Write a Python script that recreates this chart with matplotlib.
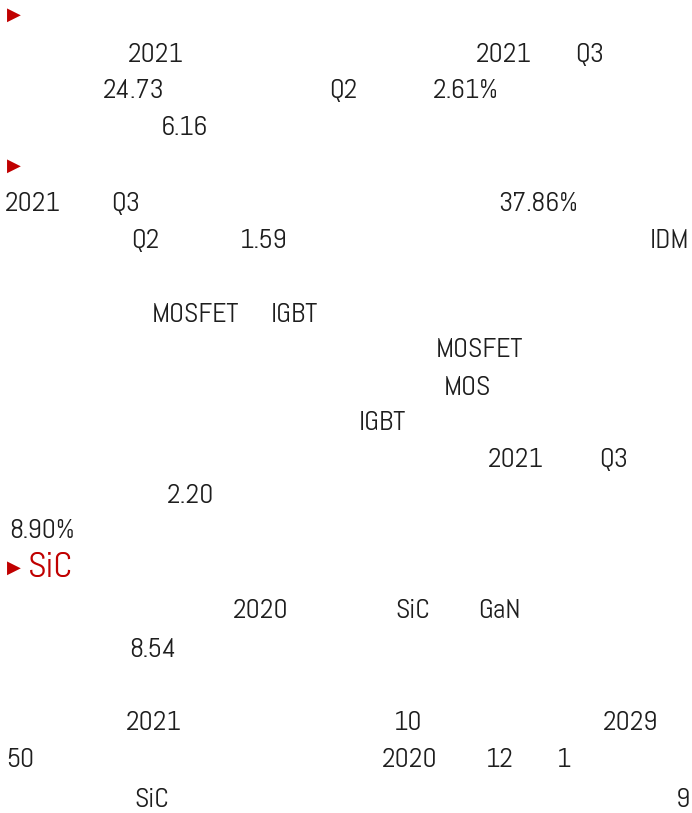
import matplotlib
matplotlib.use("Agg")
import matplotlib.pyplot as plt
from matplotlib import font_manager

# text fragments that survive in the page (CJK glyphs render blank)
sec1_l1 = ["2021", "2021", "Q3"]
sec1_l2 = ["24.73", "Q2", "2.61%"]
sec1_l3 = ["6.16"]
sec2_l1 = ["2021", "Q3", "37.86%"]
sec2_l2 = ["Q2", "1.59", "IDM"]
sec2_l3 = ["MOSFET", "IGBT"]
sec2_l4 = ["MOSFET"]
sec2_l5 = ["MOS"]
sec2_l6 = ["IGBT"]
sec2_l7 = ["2021", "Q3"]
sec2_l8 = ["2.20"]
sec2_l9 = ["8.90%"]
sec3_title = "SiC"
sec3_l1 = ["2020", "SiC", "GaN"]
sec3_l2 = ["8.54"]
sec3_l3 = ["2021", "10", "2029"]
sec3_l4 = ["50", "2020", "12", "1"]
sec3_l5 = ["SiC", "9"]

bullet = "\u25B6"

# layout: baseline (px from top) and token centres (px from left)
layout = [
    (62, [156, 504, 590], sec1_l1),
    (98, [134, 343, 466], sec1_l2),
    (135, [184], sec1_l3),
    (211, [33, 126, 538], sec2_l1),
    (248, [145, 264, 670], sec2_l2),
    (322, [195, 294], sec2_l3),
    (357, [479], sec2_l4),
    (395, [467], sec2_l5),
    (430, [382], sec2_l6),
    (467, [516, 614], sec2_l7),
    (503, [191], sec2_l8),
    (538, [42], sec2_l9),
    (618, [261, 413, 499], sec3_l1),
    (657, [153], sec3_l2),
    (730, [154, 408, 631], sec3_l3),
    (767, [20, 410, 500, 564], sec3_l4),
    (807, [152, 683], sec3_l5),
]

names = {f.name for f in font_manager.fontManager.ttflist}
body_font = "Abel" if "Abel" in names else "Liberation Sans"

fig = plt.figure(figsize=(6.92, 8.13), dpi=100)
ax = fig.add_axes([0, 0, 1, 1])
ax.set_xlim(0, 692)
ax.set_ylim(813, 0)
ax.axis("off")

text_color = "#1e1e1e"
red = "#c00000"

for base, xs, tokens in layout:
    for x, s in zip(xs, tokens):
        ax.text(x, base, s, ha="center", va="baseline", fontsize=20,
                family=body_font, color=text_color)

# red bullets of the three sections
for yc in [13, 164, 566]:
    ax.text(7, yc, bullet, ha="left", va="center_baseline", fontsize=13,
            family="DejaVu Sans", color=red)

ax.text(51, 577, sec3_title, ha="center", va="baseline", fontsize=26,
        family=body_font, color=red)

fig.savefig("out.png", dpi=100)
